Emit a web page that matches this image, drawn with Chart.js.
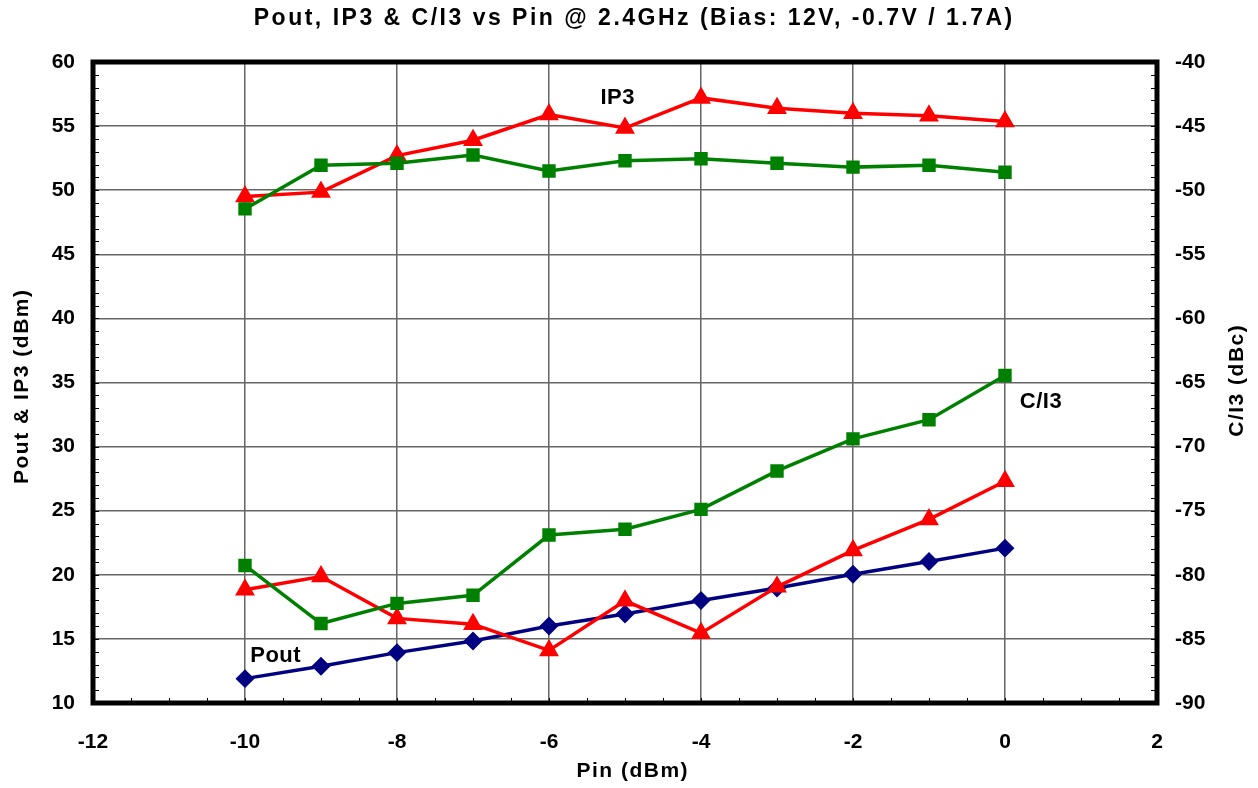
<!DOCTYPE html>
<html>
<head>
<meta charset="utf-8">
<script src="https://cdn.jsdelivr.net/npm/chart.js@4/dist/chart.umd.min.js"></script>
<style>
html,body{margin:0;padding:0;background:#fff;}
#c{display:block;}
</style>
</head>
<body>
<canvas id="c" width="1258" height="788"></canvas>
<script>
// ---- data ----
const pin = [-10, -9, -8, -7, -6, -5, -4, -3, -2, -1, 0];
const pout = [11.9, 12.87, 13.93, 14.84, 16.0, 16.95, 18.0, 18.97, 20.05, 21.04, 22.08];
const ip3Red = [49.5, 49.85, 52.7, 53.9, 55.9, 54.85, 57.2, 56.4, 56.0, 55.8, 55.35];
const ip3Green = [48.54, 51.95, 52.1, 52.75, 51.5, 52.3, 52.45, 52.1, 51.8, 51.95, 51.4];
const ci3Green = [-79.27, -83.8, -82.23, -81.6, -76.9, -76.45, -74.9, -71.9, -69.4, -67.9, -64.45];
const ci3Red = [-81.17, -80.13, -83.4, -83.85, -85.9, -82.03, -84.55, -80.94, -78.1, -75.68, -72.7];
const xTicks = [-12, -10, -8, -6, -4, -2, 0, 2];
const leftTicks = [10, 15, 20, 25, 30, 35, 40, 45, 50, 55, 60];
const rightTicks = [-90, -85, -80, -75, -70, -65, -60, -55, -50, -45, -40];
const labels = [
  {text: 'IP3', x: -5.1, y: 57.2},
  {text: 'Pout', x: -9.6, y: 13.7},
  {text: 'C/I3', x: 0.47, y: 33.5}
];
const titleText = 'Pout, IP3 & C/I3 vs Pin @ 2.4GHz (Bias: 12V, -0.7V / 1.7A)';
const xTitle = 'Pin (dBm)';
const yTitle = 'Pout & IP3 (dBm)';
const y2Title = 'C/I3 (dBc)';

const toXY = (xs, ys) => xs.map((x, i) => ({x: x, y: ys[i]}));
const FONT = "'Liberation Sans', Arial, sans-serif";

function spacedText(ctx, text, x, y, spacing) {
  ctx.letterSpacing = spacing + 'px';
  const w = ctx.measureText(text).width - spacing;
  ctx.textAlign = 'left';
  ctx.fillText(text, x - w / 2, y);
}

const framePlugin = {
  id: 'frame',
  afterDraw(chart) {
    const ctx = chart.ctx;
    const a = chart.chartArea;
    const xs = chart.scales.x, ys = chart.scales.y;
    ctx.save();
    // minor ticks
    ctx.strokeStyle = '#000';
    ctx.lineWidth = 1;
    for (let v = -12; v <= 2.001; v += 0.5) {
      const px = Math.round(xs.getPixelForValue(v)) + 0.5;
      ctx.beginPath(); ctx.moveTo(px, a.bottom); ctx.lineTo(px, a.bottom - 5); ctx.stroke();
    }
    for (let v = 10; v <= 60.001; v += 1) {
      const py = Math.round(ys.getPixelForValue(v)) + 0.5;
      ctx.beginPath(); ctx.moveTo(a.left, py); ctx.lineTo(a.left + 6, py); ctx.stroke();
      ctx.beginPath(); ctx.moveTo(a.right, py); ctx.lineTo(a.right - 6, py); ctx.stroke();
    }
    // frame
    ctx.lineWidth = 5;
    ctx.strokeStyle = '#000';
    ctx.strokeRect(a.left, a.top, a.right - a.left, a.bottom - a.top);
    // annotations
    ctx.fillStyle = '#000';
    ctx.textBaseline = 'middle';
    ctx.font = 'bold 22px ' + FONT;
    labels.forEach(l => spacedText(ctx, l.text, xs.getPixelForValue(l.x), ys.getPixelForValue(l.y), 0.5));
    // title
    ctx.font = 'bold 23px ' + FONT;
    spacedText(ctx, titleText, (a.left + a.right) / 2 + 8, 19, 2.5);
    // axis titles
    ctx.font = 'bold 21px ' + FONT;
    spacedText(ctx, xTitle, (a.left + a.right) / 2 + 7, 771, 1.5);
    ctx.save();
    ctx.translate(22, 387);
    ctx.rotate(-Math.PI / 2);
    spacedText(ctx, yTitle, 0, 0, 1.5);
    ctx.restore();
    ctx.save();
    ctx.translate(1237, 381);
    ctx.rotate(-Math.PI / 2);
    spacedText(ctx, y2Title, 0, 0, 1.5);
    ctx.restore();
    ctx.restore();
  }
};

const tickFont = {family: FONT, size: 21, weight: 'bold'};

new Chart(document.getElementById('c'), {
  type: 'line',
  data: {
    datasets: [
      {label: 'C/I3 (green)', data: toXY(pin, ci3Green), yAxisID: 'y2', borderColor: '#008000', backgroundColor: '#008000', pointStyle: 'rect', pointRadius: 7, borderWidth: 3.5},
      {label: 'C/I3 (red)', data: toXY(pin, ci3Red), yAxisID: 'y2', borderColor: '#ff0000', backgroundColor: '#ff0000', pointStyle: 'triangle', pointRadius: 8, borderWidth: 3.5},
      {label: 'IP3 (green)', data: toXY(pin, ip3Green), yAxisID: 'y', borderColor: '#008000', backgroundColor: '#008000', pointStyle: 'rect', pointRadius: 7, borderWidth: 3.5},
      {label: 'IP3 (red)', data: toXY(pin, ip3Red), yAxisID: 'y', borderColor: '#ff0000', backgroundColor: '#ff0000', pointStyle: 'triangle', pointRadius: 8, borderWidth: 3.5},
      {label: 'Pout', data: toXY(pin, pout), yAxisID: 'y', borderColor: '#000080', backgroundColor: '#000080', pointStyle: 'rectRot', pointRadius: 7, borderWidth: 3.5}
    ]
  },
  options: {
    responsive: false,
    animation: false,
    devicePixelRatio: 1,
    layout: {padding: {top: 62, left: 0, right: 0, bottom: 0}},
    plugins: {legend: {display: false}, title: {display: false}, tooltip: {enabled: false}},
    elements: {line: {tension: 0}, point: {borderWidth: 0}},
    scales: {
      x: {
        type: 'linear', min: -12, max: 2,
        afterBuildTicks: s => { s.ticks = xTicks.map(v => ({value: v})); },
        afterFit: s => { s.height = 85; },
        grid: {color: '#666666', lineWidth: 1.5, drawTicks: false},
        border: {display: false},
        ticks: {color: '#000', font: tickFont, padding: 27},
        title: {display: false}
      },
      y: {
        position: 'left', min: 10, max: 60,
        afterBuildTicks: s => { s.ticks = leftTicks.map(v => ({value: v})); },
        afterFit: s => { s.width = 93; },
        grid: {color: '#666666', lineWidth: 1.5, drawTicks: false},
        border: {display: false},
        ticks: {color: '#000', font: tickFont, padding: 18},
        title: {display: false}
      },
      y2: {
        position: 'right', min: -90, max: -40,
        afterBuildTicks: s => { s.ticks = rightTicks.map(v => ({value: v})); },
        afterFit: s => { s.width = 101; },
        grid: {display: false, drawTicks: false},
        border: {display: false},
        ticks: {color: '#000', font: tickFont, padding: 18},
        title: {display: false}
      }
    }
  },
  plugins: [framePlugin]
});
</script>
</body>
</html>
